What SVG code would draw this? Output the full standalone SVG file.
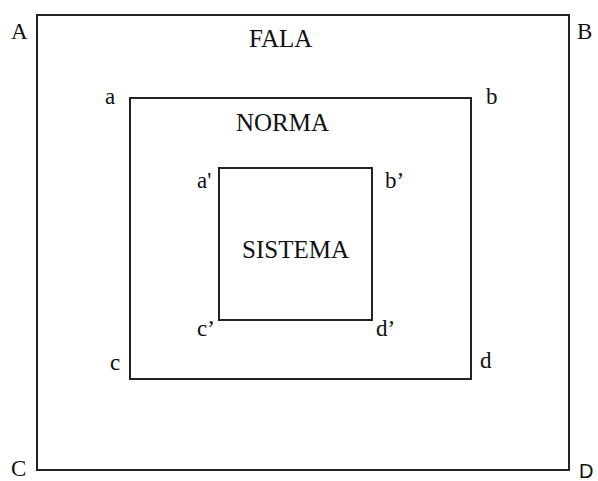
<svg xmlns="http://www.w3.org/2000/svg" width="598" height="481" viewBox="0 0 598 481">
<style>
rect{fill:none;stroke:#222;stroke-width:2}
text{font-family:"Liberation Serif","Times New Roman",serif;fill:#111}
.big{font-size:25px}
.lbl{font-size:23px}
.sans{font-family:"Liberation Sans",Arial,sans-serif;font-size:20px}
</style>
<rect x="0" y="0" width="598" height="481" style="fill:#fff;stroke:none"/>
<g id="outer">
<rect x="37" y="15" width="532" height="455"/>
<text class="big" x="249" y="47">FALA</text>
<text class="lbl" x="11" y="39">A</text>
<text class="lbl" x="577" y="39">B</text>
<text class="lbl" x="11" y="476">C</text>
<text class="sans" x="579" y="478">D</text>
</g>
<g id="middle">
<rect x="130" y="98" width="341" height="281"/>
<text class="big" x="236" y="131">NORMA</text>
<text class="lbl" x="105" y="104">a</text>
<text class="lbl" x="486" y="104">b</text>
<text class="lbl" x="110" y="370">c</text>
<text class="lbl" x="480" y="368">d</text>
</g>
<g id="inner">
<rect x="219" y="168" width="153" height="152"/>
<text class="big" x="242" y="258">SISTEMA</text>
<text class="lbl" x="197" y="188">a'</text>
<text class="lbl" x="385" y="188">b’</text>
<text class="lbl" x="197" y="336">c’</text>
<text class="lbl" x="376" y="336">d’</text>
</g>
</svg>
